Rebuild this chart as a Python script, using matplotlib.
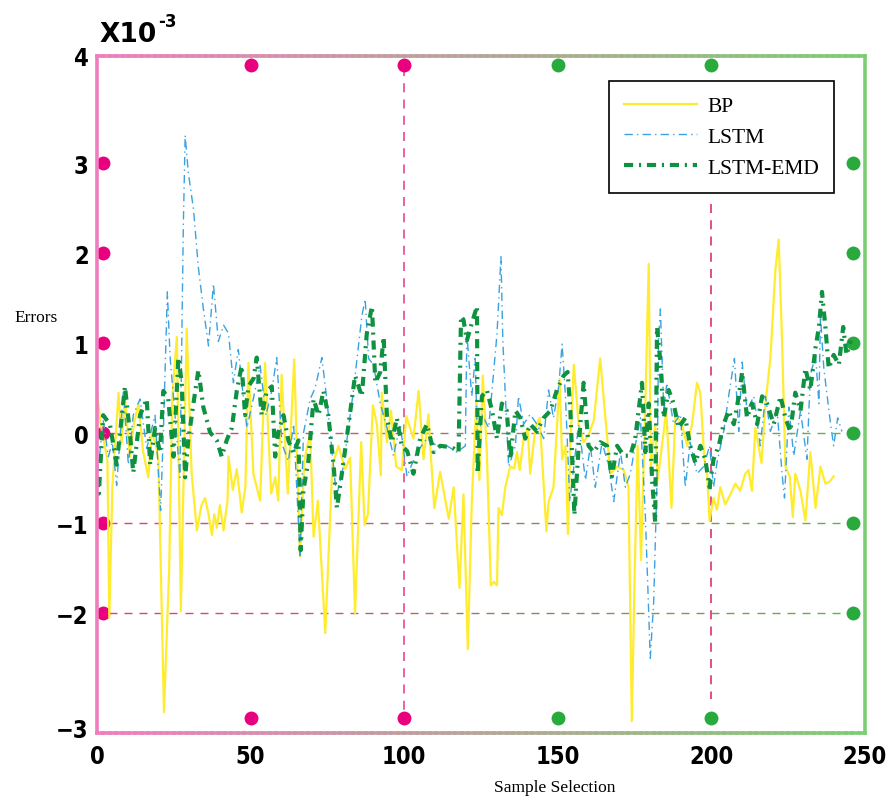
import numpy as np
import matplotlib.pyplot as plt
from matplotlib.collections import LineCollection
from matplotlib.lines import Line2D

# dados (amostra, erro x1e-3)
bp_x = [0, 1.2, 2.4, 3.4, 4.0, 5.0, 7, 8, 9.1, 10.7, 12, 13.5, 15, 16.7, 17.8, 19, 20, 21.8, 23.5, 24.5,
        26, 27.3, 29.2, 30.8, 32.5, 34, 35.2, 36.3, 37.4, 38.2, 39, 40, 41.2, 42.5, 42.8, 44.2, 45.5, 47.1,
        48.3, 49.3, 50.9, 53.1, 54.7, 56.7, 58, 59, 60.1, 62.1, 64.2, 66.1, 67.5, 69.4, 70.5, 71.9, 74.3,
        76.6, 78.6, 80.8, 82.4, 84, 86, 87.1, 88.2, 89.8, 91.1, 92.4, 92.7, 94.4, 95.7, 97.4, 99.2, 100.7,
        103, 104.7, 106.3, 107.9, 108.8, 109.8, 111.7, 114.5, 116.1, 118, 119.3, 120.7, 122, 123.5, 124.5,
        125.6, 126.9, 128.2, 129.2, 130.2, 130.7, 131.8, 132.9, 134.5, 135.8, 136.7, 137.6, 138.9, 140.2,
        141, 142.7, 144.1, 146.3, 147, 148.6, 150.6, 151.4, 152.5, 153.3, 154.1, 155.2, 156.8, 158.4, 160,
        161.7, 163.8, 165.5, 167.1, 169.3, 171.5, 173, 174.1, 175, 176, 177.1, 178.5, 179.6, 180.3, 181.7,
        182.5, 183.9, 185.3, 187, 188.3, 190.4, 192.1, 193.7, 195.3, 196.4, 197.7, 198.6, 199.4, 200.7,
        201.8, 202.9, 204.5, 206.2, 207.8, 209.4, 211, 212.1, 213.2, 214.3, 216.3, 217.6, 219.2, 220.8,
        221.9, 223, 224.1, 225.5, 226.5, 227.3, 229, 230.6, 232.2, 233.9, 235.5, 237.1, 238.4, 239.8]
bp_y = [0.45, 0.1, -0.12, -0.3, -2.05, -0.6, 0.45, -0.12, 0.38, -0.26, 0.1, 0.33, -0.2, -0.49, 0.0, -0.1,
        -0.3, -3.1, -1.5, 0.4, 1.07, -1.98, 1.16, -0.44, -1.08, -0.8, -0.72, -0.9, -1.13, -0.9, -1.05, -0.8,
        -1.08, -0.74, -0.26, -0.63, -0.4, -0.88, -0.6, 0.78, -0.45, -0.75, 0.78, -0.67, -0.49, -0.75, 0.65,
        -0.67, 0.82, -1.37, -0.3, 0.0, -1.15, -0.75, -2.22, -0.36, -0.14, -0.4, -0.27, -2.0, -0.1, -1.02,
        -0.9, 0.31, 0.1, -0.47, 0.45, -0.1, 0.25, -0.37, -0.41, 0.19, -0.06, 0.47, -0.29, 0.21, -0.31,
        -0.83, -0.43, -0.95, -0.6, -1.72, -0.68, -2.4, -0.76, 0.37, -0.52, 0.64, -0.21, -1.69, -1.65,
        -1.69, -0.83, -0.91, -0.6, -0.37, -0.39, -0.21, -0.41, -0.06, 0.06, -0.45, 0.06, 0.17, -1.09,
        -0.76, -0.6, 0.6, -0.29, -0.14, -1.12, -0.14, 0.76, 0.1, -0.1, -0.02, 0.14, 0.83, 0.17, -0.45,
        -0.37, -0.41, -0.6, -3.2, -1.6, -0.14, -1.41, 0.33, 1.88, -0.37, 0.1, -0.52, -0.14, 0.25, -0.83,
        0.21, 0.1, -0.14, 0.1, 0.56, 0.45, -0.29, -0.45, -0.97, -0.72, -0.85, -0.6, -0.79, -0.68, -0.56,
        -0.64, -0.45, -0.41, -0.64, 0.06, -0.33, 0.33, 0.83, 1.8, 2.15, 1.03, -0.37, -0.48, -0.93, -0.45,
        -0.64, -0.97, -0.21, -0.83, -0.37, -0.56, -0.54, -0.48]

lstm_x = [0, 1, 2, 3.7, 5, 6.4, 8.6, 10.2, 11.8, 14, 16.2, 18.9, 20.7, 21.6, 22.9, 23.8, 25.4, 27, 28.1,
          28.7, 29.7, 31.4, 33, 34.6, 36.3, 37.9, 39.5, 41.2, 42.8, 44.4, 46, 47.7, 48.8, 51, 53.1, 55,
          56.9, 58.5, 60.2, 62.3, 64, 66.1, 67.2, 69.4, 71, 73.2, 74.8, 77.5, 78.1, 80.2, 83.5, 86.2, 87.3,
          88.4, 90, 92.2, 94.4, 96.5, 98.7, 100.9, 104.1, 107.4, 110.6, 113.9, 117.2, 119.9, 120.4, 122,
          123.1, 123.9, 125.3, 127.5, 129.1, 130.2, 131.5, 132.1, 132.9, 134, 136.2, 137.2, 138.9, 141,
          143.2, 145.4, 147, 148.6, 150.3, 151.4, 152.5, 153.9, 155.2, 156.8, 159, 160.6, 162.2, 164.4,
          166.6, 168.2, 170.4, 172, 173.6, 175.2, 176.9, 178.5, 179.2, 180.1, 181.2, 182.3, 182.8, 183.4,
          184.5, 185.5, 187.7, 189.9, 191.5, 193.1, 195.3, 197.5, 199.4, 200.7, 201.8, 204, 205.6, 207.5,
          208.9, 210, 211.6, 213.8, 215.9, 217.6, 219.2, 221.4, 223, 223.8, 225.2, 226.8, 229, 231.1,
          232.2, 233.9, 235, 235.5, 236.6, 237.7, 238.8, 239.8, 241.1, 242.5]
lstm_y = [-0.44, -0.2, 0.15, -0.26, -0.1, -0.58, 0.47, -0.35, 0.2, 0.38, -0.17, 0.2, -0.86, 0.01, 1.57,
          0.84, 0.2, -0.49, 2.3, 3.31, 2.9, 2.49, 1.84, 1.39, 0.97, 1.66, 1.02, 1.2, 1.11, 0.56, 0.93, 0.38,
          0.06, 0.4, 0.75, 0.2, 0.47, 0.84, -0.12, -0.31, 0.1, -1.36, 0.0, 0.38, 0.5, 0.84, 0.38, -0.54,
          -0.68, -0.37, 0.48, 1.3, 1.49, 0.83, 0.76, 0.33, 0.06, -0.25, 0.1, -0.48, -0.21, -0.06, -0.14,
          -0.14, -0.21, -0.14, 1.1, 0.41, 0.83, -0.14, 0.21, 0.06, 0.68, 1.1, 1.96, 1.03, 0.45, -0.37,
          -0.14, 0.41, 0.1, 0.21, 0.1, -0.06, 0.48, 0.17, 0.52, 0.99, 0.41, -0.76, -0.37, 0.1, -0.52, -0.14,
          -0.6, -0.1, -0.37, -0.76, -0.21, -0.6, -0.45, -0.14, 0.17, -0.91, -1.61, -2.5, -1.88, -0.52, 1.03,
          1.38, 0.25, 0.56, 0.1, 0.21, -0.6, -0.1, -0.45, -0.37, -0.14, -0.6, -0.33, 0.02, 0.41, 0.83, 0.02,
          0.79, 0.25, 0.41, -0.14, 0.41, 0.02, 0.25, -0.45, -0.72, 0.29, -0.25, 0.25, -0.29, 0.64, 0.87,
          0.33, 1.3, 0.72, 0.41, 0.1, -0.14, 0.17, 0.02]

emd_x = [0, 0.6, 2, 4.2, 6.4, 9.1, 10.7, 11.8, 14, 16.2, 17.3, 18.9, 20.5, 21.6, 23.2, 24.9, 26.5, 27.6,
         28.7, 29.7, 31.4, 33, 34.6, 36.8, 39, 40.6, 42.2, 43.9, 45.5, 47.1, 48.2, 49.3, 51, 52, 53.6, 55.3,
         56.9, 58, 59, 60.7, 62.3, 64, 65.6, 66.3, 67.2, 68.8, 70.5, 72.1, 73.7, 75.3, 77, 78.1, 79.7, 81.9,
         84, 86.2, 87.8, 89.5, 90.6, 92.2, 93.3, 94.4, 96, 97.6, 99.2, 101, 103, 105.2, 107.4, 109.6, 111.7,
         114, 116.1, 117.7, 118.5, 119.3, 120.4, 122, 123.7, 123.9, 125.3, 126.9, 128.6, 130.2, 131.8,
         133.4, 134.5, 136.2, 137.8, 139.4, 141, 143.2, 145.4, 147.6, 149.7, 151.9, 153.2, 154.1, 155.4,
         156.8, 158.4, 160, 161.7, 163.8, 166, 167.6, 169.3, 171.5, 173.6, 175.2, 177.4, 178.5, 179.6,
         180.7, 181.7, 182.3, 183.4, 184.5, 186.1, 187.7, 189.3, 191.5, 193.1, 194.8, 196.4, 198, 199.4,
         200.7, 202.4, 204, 205.6, 207.3, 208.9, 210, 211.6, 213.2, 214.9, 216.5, 218.1, 220.3, 222.5,
         224.1, 225.7, 227.3, 229, 230.6, 232.2, 233.9, 235, 236, 237.1, 238.2, 239.8, 241.5, 242.9, 244,
         245.3]
emd_y = [-0.5, -0.67, 0.2, 0.1, -0.35, 0.52, 0.01, -0.44, 0.2, 0.38, -0.35, 0.06, -0.22, 0.47, 0.38,
         -0.26, 0.84, 0.56, -0.49, -0.08, 0.33, 0.7, 0.29, 0.01, -0.08, -0.26, -0.08, 0.06, 0.47, 0.75, 0.2,
         0.52, 0.61, 0.84, 0.2, 0.47, 0.52, -0.26, 0.01, 0.2, -0.08, -0.22, -0.08, -1.3, -0.63, -0.31, 0.38,
         0.2, 0.47, 0.2, -0.35, -0.83, -0.45, 0.1, 0.64, 0.41, 1.1, 1.41, 0.56, 0.68, 1.07, 0.17, -0.1,
         0.17, -0.14, -0.2, -0.45, -0.06, 0.1, -0.21, -0.14, -0.15, -0.17, -0.21, 1.3, 1.26, 1.03, 1.22,
         1.41, -0.45, 0.41, 0.48, 0.25, -0.06, 0.33, 0.25, -0.29, 0.25, 0.17, -0.06, 0.1, 0.02, 0.17, 0.25,
         0.48, 0.64, 0.68, 0.25, -0.91, -0.14, 0.56, -0.14, -0.21, -0.1, -0.14, -0.48, -0.14, -0.25, -0.25,
         -0.06, 0.56, -0.21, 0.33, -0.52, -0.99, 1.18, 0.79, 0.17, 0.48, 0.33, 0.06, 0.17, -0.14, -0.33,
         -0.14, -0.29, -0.6, -0.29, -0.14, 0.1, 0.25, 0.1, 0.41, 0.68, 0.17, 0.33, 0.1, 0.41, 0.33, 0.1,
         0.41, 0.17, 0.02, 0.45, 0.25, 0.72, 0.48, 0.95, 1.18, 1.57, 1.18, 0.72, 0.87, 0.76, 1.18, 0.87, 1.03]

# pontos decorativos
dots_left_y = [3, 2, 1, 0, -1, -2]
dots_right_y = [3, 2, 1, 0, -1, -2]
dots_top_x = [50, 100, 150, 200]
ref_lines_y = [0, -1, -2]

rosa = np.array([232, 0, 126]) / 255
verde = np.array([40, 170, 60]) / 255


def mistura(c1, c2, t):
    return tuple(np.array(c1) * (1 - t) + np.array(c2) * t)


fig = plt.figure(figsize=(8.91, 8.04), dpi=100)
ax = fig.add_axes([97 / 891, 70 / 804, 768 / 891, 677 / 804])
ax.set_xlim(0, 250)
ax.set_ylim(-3.33, 4.19)
for s in ax.spines.values():
    s.set_visible(False)

# linhas tracejadas horizontais com degradê
cor_a = np.array([230, 60, 125]) / 255
cor_b = np.array([90, 185, 70]) / 255
for yv in ref_lines_y:
    xs = np.arange(4, 246, 4.9)
    segs = [[(x0, yv), (x0 + 2.6, yv)] for x0 in xs]
    cols = [mistura(cor_a, cor_b, (x0 - 4) / 242) for x0 in xs]
    ax.add_collection(LineCollection(segs, colors=cols, linewidths=1.0, zorder=1))

# linhas verticais tracejadas
ax.plot([100, 100], [4.07, -3.1], ls=(0, (5, 4)), color='#e8559e', lw=1.3, zorder=1)
ax.plot([200, 200], [2.55, -2.95], ls=(0, (5, 4)), color='#e0407f', lw=1.3, zorder=1)

# séries
ax.plot(bp_x, bp_y, color='#ffec2e', lw=1.6, zorder=3, label='BP')
ax.plot(lstm_x, lstm_y, color='#3aa2e2', lw=1.0, dashes=(6, 3, 1, 3), zorder=4, label='LSTM')
ax.plot(emd_x, emd_y, color='#0f9142', lw=3.0, dashes=(2.2, 1.4, 0.5, 1.4), zorder=5, label='LSTM-EMD')

# pontos
ax.plot([2] * len(dots_left_y), dots_left_y, 'o', color=rosa, ms=10, mec='none', zorder=2, clip_on=False)
ax.plot([246] * len(dots_right_y), dots_right_y, 'o', color=verde, ms=10, mec='none', zorder=2, clip_on=False)
for xv in dots_top_x:
    c = rosa if xv <= 100 else verde
    ax.plot([xv], [4.09], 'o', color=c, ms=10, mec='none', zorder=2, clip_on=False)
    ax.plot([xv], [-3.16], 'o', color=c, ms=10, mec='none', zorder=2, clip_on=False)

# moldura com degradê
borda_a = np.array([240, 125, 190]) / 255
borda_b = np.array([125, 205, 115]) / 255
n = 120
t = np.linspace(0, 1, n + 1)
segs, cols = [], []
for yv in [0, 1]:
    for i in range(n):
        segs.append([(t[i], yv), (t[i + 1], yv)])
        cols.append(mistura(borda_a, borda_b, (t[i] + t[i + 1]) / 2))
segs.append([(0, 0), (0, 1)])
cols.append(tuple(borda_a))
segs.append([(1, 0), (1, 1)])
cols.append(tuple(borda_b))
ax.add_collection(LineCollection(segs, colors=cols, linewidths=2.6, transform=ax.transAxes,
                                 clip_on=False, zorder=6, capstyle='projecting'))

# ticks
fonte_tick = ['Liberation Sans Narrow', 'DejaVu Sans']
ax.set_xticks([0, 50, 100, 150, 200, 250])
ax.set_xticklabels(['0', '50', '100', '150', '200', '250'])
ax.set_yticks([-3.27, -2, -1, 0, 1, 2, 3, 4.19])
ax.set_yticklabels(['\u22123', '\u22122', '\u22121', '0', '1', '2', '3', '4'])
ax.tick_params(length=0, labelsize=17)
ax.tick_params(axis='x', pad=8)
ax.tick_params(axis='y', pad=6)
for lab in ax.get_xticklabels() + ax.get_yticklabels():
    lab.set_family(fonte_tick)
    lab.set_fontweight('bold')
    lab.set_fontstretch('condensed')

fig.text(100 / 891, 1 - 42 / 804, 'X10', fontsize=19, fontweight='bold', family=fonte_tick,
         ha='left', va='baseline')
fig.text(158 / 891, 1 - 27 / 804, '-3', fontsize=12, fontweight='bold', family=fonte_tick,
         ha='left', va='baseline')

fig.text(14 / 891, 1 - 318 / 804, 'Errors', fontsize=12.5, family='Liberation Serif', ha='left', va='center')
fig.text(555 / 891, 1 - 788 / 804, 'Sample Selection', fontsize=12.5, family='Liberation Serif',
         ha='center', va='center')

handles = [Line2D([], [], color='#ffec2e', lw=1.6),
           Line2D([], [], color='#3aa2e2', lw=1.0, dashes=(6, 3, 1, 3)),
           Line2D([], [], color='#0f9142', lw=3.0, dashes=(2.2, 1.4, 0.5, 1.4))]
leg = ax.legend(handles, ['BP', 'LSTM', 'LSTM-EMD'], loc='upper right', bbox_to_anchor=(0.9596, 0.963),
                prop={'family': 'Liberation Serif', 'size': 15.5}, fancybox=False, edgecolor='black',
                framealpha=1, handlelength=3.4, handletextpad=0.45, borderpad=0.7, labelspacing=0.5,
                borderaxespad=0)
leg.get_frame().set_linewidth(1.2)
leg.set_zorder(7)

fig.savefig('out.png', dpi=100)
